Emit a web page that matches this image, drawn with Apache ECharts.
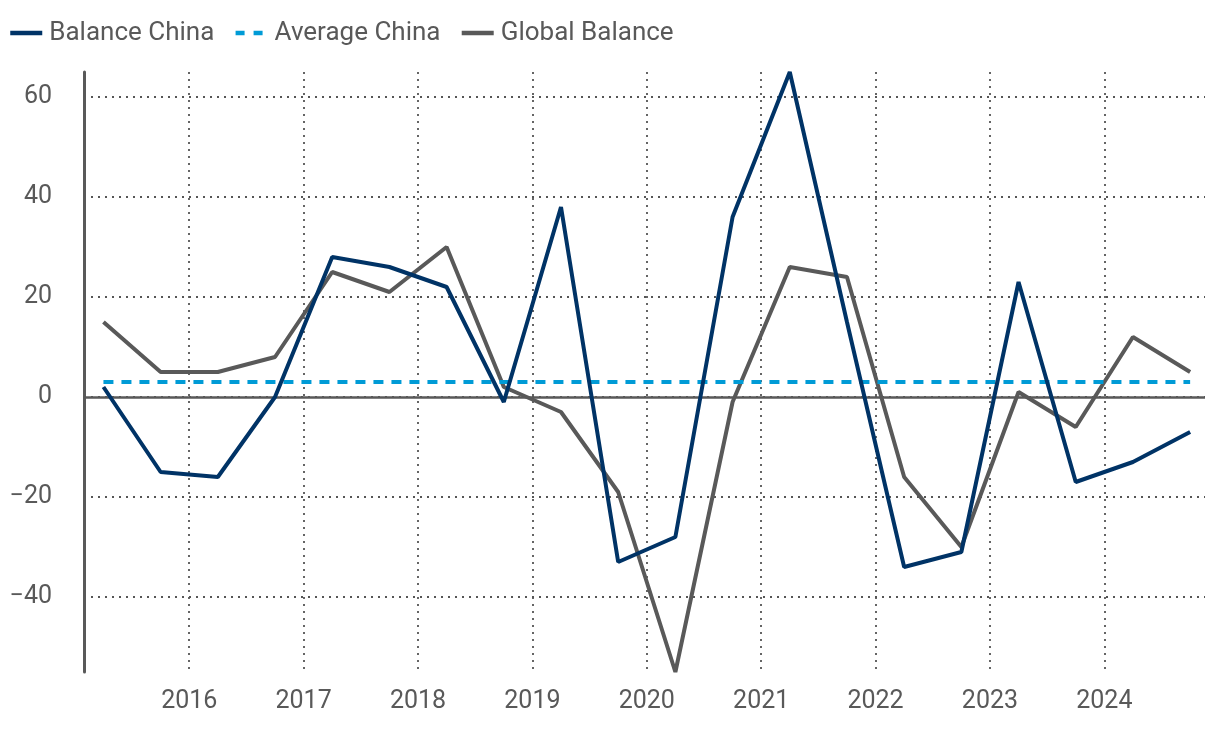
<!DOCTYPE html>
<html>
<head>
<meta charset="utf-8">
<script src="https://cdn.jsdelivr.net/npm/echarts@6/dist/echarts.min.js"></script>
<style>html,body{margin:0;padding:0;background:#fff}#c{width:1220px;height:730px}</style>
</head>
<body>
<div id="c"></div>
<script>
const periods = [2015.25, 2015.75, 2016.25, 2016.75, 2017.25, 2017.75, 2018.25, 2018.75, 2019.25, 2019.75,
                 2020.25, 2020.75, 2021.25, 2021.75, 2022.25, 2022.75, 2023.25, 2023.75, 2024.25, 2024.75];
const balanceChina = [2, -15, -16, 0, 28, 26, 22, -1, 38, -33, -28, 36, 65, 15, -34, -31, 23, -17, -13, -7];
const averageChina = [3, 3, 3, 3, 3, 3, 3, 3, 3, 3, 3, 3, 3, 3, 3, 3, 3, 3, 3, 3];
const globalBalance = [15, 5, 5, 8, 25, 21, 30, 2, -3, -19, -55, -1, 26, 24, -16, -30, 1, -6, 12, 5];
const seriesNames = ['Balance China', 'Average China', 'Global Balance'];

const pair = (vals) => periods.map((p, i) => [p, vals[i]]);
const FONT = 'Roboto';
const TXT = '#595959';
const grid = {type: [2, 5], color: '#555', width: 1.8};

const chart = echarts.init(document.getElementById('c'), null, {renderer: 'canvas'});
chart.setOption({
  animation: false,
  textStyle: {fontFamily: FONT},
  legend: {
    left: 3, top: 15, itemWidth: 32, itemHeight: 14, itemGap: 19,
    itemStyle: {opacity: 0},
    lineStyle: {width: 4.5},
    textStyle: {fontSize: 26, color: TXT, fontFamily: FONT, padding: [0, 0, 0, 2]},
    data: [
      {name: seriesNames[0]},
      {name: seriesNames[1], lineStyle: {type: [9, 9], width: 4.5}},
      {name: seriesNames[2]}
    ]
  },
  grid: {left: 84, right: 15, top: 72, bottom: 58, containLabel: false},
  xAxis: {
    type: 'value', min: 2015.08, max: 2024.88, splitNumber: 10,
    axisLine: {show: false, onZero: false},
    axisTick: {show: false},
    axisLabel: {showMinLabel: false, showMaxLabel: false, fontSize: 25, color: TXT, margin: 17,
      fontFamily: FONT, formatter: v => String(v)},
    splitLine: {show: true, showMinLine: false, showMaxLine: false, lineStyle: grid}
  },
  yAxis: {
    type: 'value', min: -55, max: 65, splitNumber: 6,
    axisLine: {show: true, lineStyle: {color: TXT, width: 3}},
    axisTick: {show: false},
    axisLabel: {showMinLabel: false, showMaxLabel: false, fontSize: 25, color: TXT, margin: 32,
      fontFamily: FONT, formatter: v => String(v).replace('-', '\u2212')},
    splitLine: {show: true, showMinLine: false, showMaxLine: false, lineStyle: grid}
  },
  series: [
    {name: seriesNames[2], type: 'line', data: pair(globalBalance), showSymbol: false, symbol: 'none',
     lineStyle: {color: '#595959', width: 4}, itemStyle: {color: '#595959'}, z: 3,
     markLine: {silent: true, symbol: 'none', label: {show: false},
       lineStyle: {color: '#595959', type: 'solid', width: 2.5}, data: [{yAxis: 0}]}},
    {name: seriesNames[1], type: 'line', data: pair(averageChina), showSymbol: false, symbol: 'none',
     lineStyle: {color: '#009bd6', width: 4, type: [10, 8]}, itemStyle: {color: '#009bd6'}, z: 4},
    {name: seriesNames[0], type: 'line', data: pair(balanceChina), showSymbol: false, symbol: 'none',
     lineStyle: {color: '#003366', width: 4}, itemStyle: {color: '#003366'}, z: 5}
  ]
});
</script>
</body>
</html>
